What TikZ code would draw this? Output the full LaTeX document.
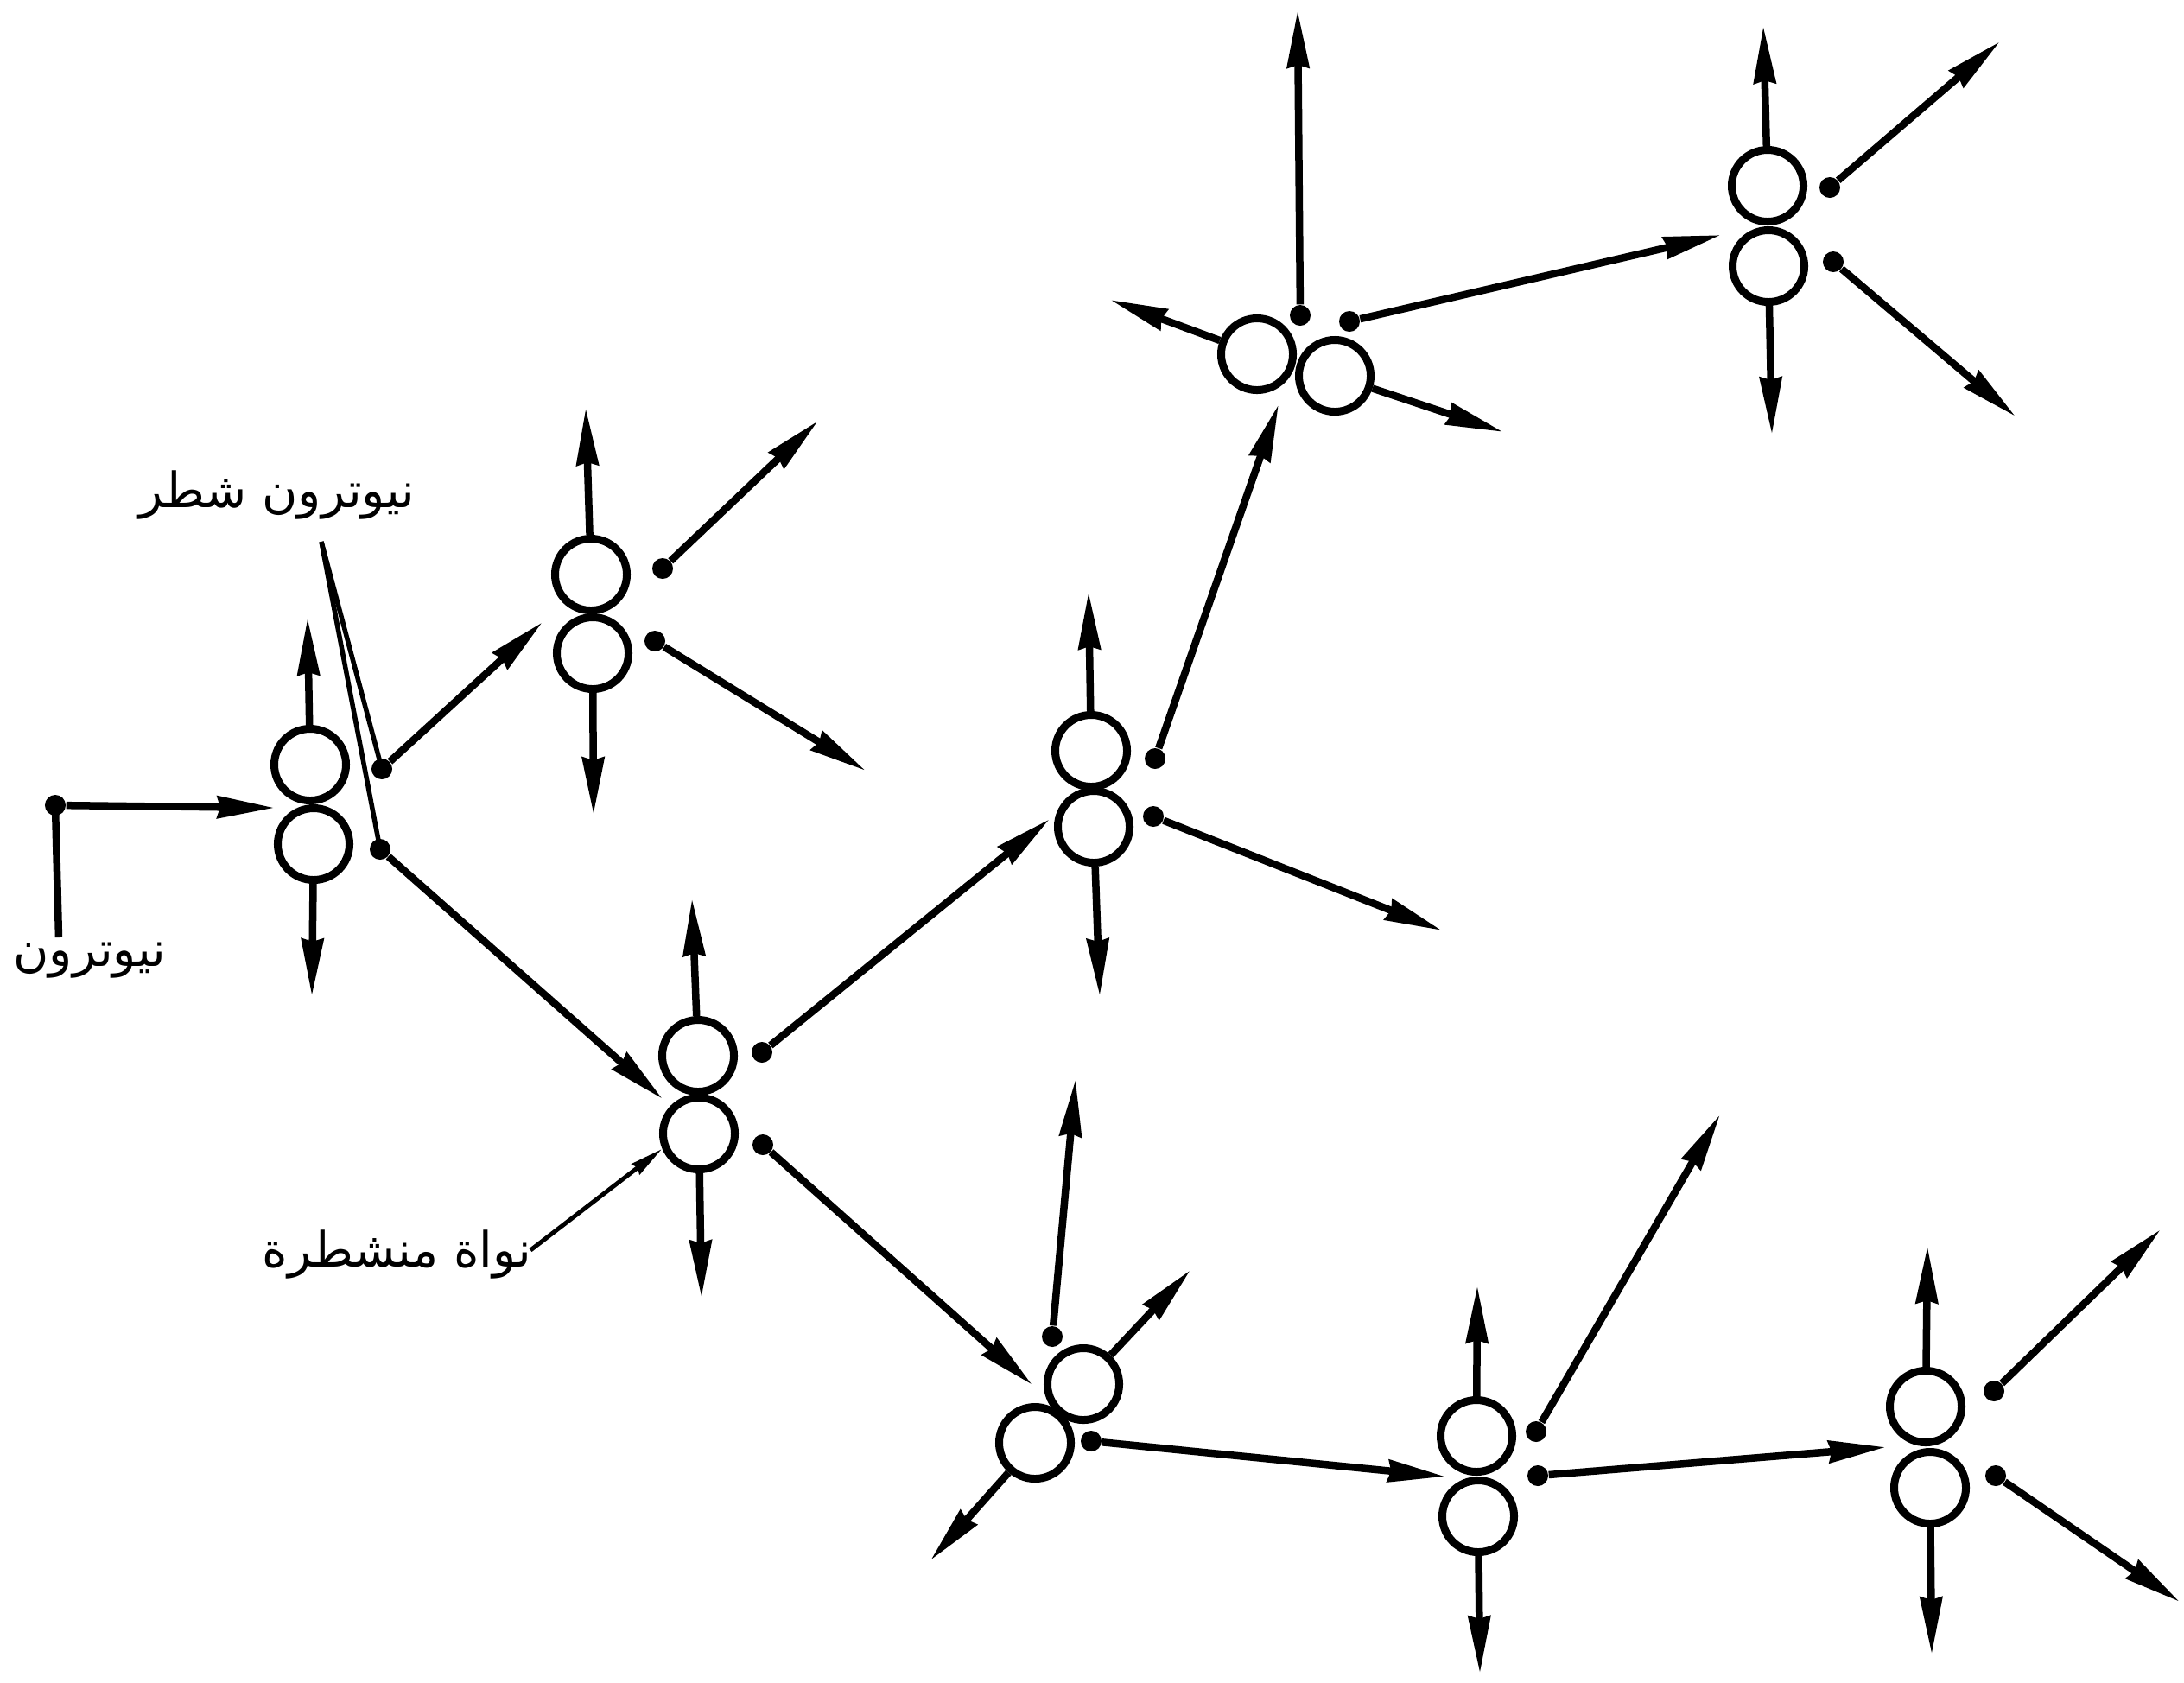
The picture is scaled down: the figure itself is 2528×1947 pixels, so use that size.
\documentclass[tikz,border=0pt]{standalone}
\usepackage{fontspec}
\newfontfamily\arabicfont[Script=Arabic]{DejaVu Sans}
\TeXXeTstate=1
\usetikzlibrary{arrows.meta}
\begin{document}
\begin{tikzpicture}[x=0.01cm,y=-0.01cm,
  nuc/.style={circle,draw,line width=0.09cm,minimum size=0.83cm,inner sep=0pt},
  dot/.style={circle,fill,minimum size=0.24cm,inner sep=0pt},
  ray/.style={line width=0.085cm,-{Stealth[length=0.66cm,width=0.25cm,inset=0.03cm]}},
  lead/.style={line width=0.055cm},
  leadarrow/.style={line width=0.05cm,-{Stealth[length=0.38cm,width=0.15cm,inset=0.03cm]}},
  lbl/.style={font=\arabicfont\fontsize{16}{18}\selectfont,inner sep=0pt}]
\useasboundingbox (0,0) rectangle (2528,1947);

% nuclei pairs
\node[nuc] (Au) at (359,885) {};  \node[nuc] (Al) at (363,977) {};
\node[nuc] (Bu) at (684,665) {};  \node[nuc] (Bl) at (686,756) {};
\node[nuc] (Cl) at (1455,410) {}; \node[nuc] (Cr) at (1545,435) {};
\node[nuc] (Du) at (808,1222) {}; \node[nuc] (Dl) at (809,1312) {};
\node[nuc] (Eu) at (1263,869) {}; \node[nuc] (El) at (1266,957) {};
\node[nuc] (Fr) at (1254,1602) {};\node[nuc] (Fl) at (1198,1670) {};
\node[nuc] (Gu) at (2046,215) {}; \node[nuc] (Gl) at (2047,308) {};
\node[nuc] (Hu) at (1709,1662) {};\node[nuc] (Hl) at (1711,1755) {};
\node[nuc] (Iu) at (2229,1628) {};\node[nuc] (Il) at (2234,1722) {};

% incoming neutron
\node[dot] (n0) at (64,932) {};
\coordinate (n0b) at (68,1085);
\coordinate (tA) at (318,935);
\draw[line width=0.085cm] (n0b) -- (n0.center);
\draw[ray] (n0) -- (tA);

% pair A
\coordinate (tAu) at (356,715); \coordinate (tAl) at (361,1153);
\draw[ray] (Au) -- (tAu); \draw[ray] (Al) -- (tAl);
\node[dot] (dA1) at (442,890) {}; \coordinate (tA1) at (628,720);
\node[dot] (dA2) at (440,983) {}; \coordinate (tA2) at (767,1272);
\draw[ray] (dA1) -- (tA1); \draw[ray] (dA2) -- (tA2);

% pair B
\coordinate (tBu) at (678,472); \coordinate (tBl) at (687,943);
\draw[ray] (Bu) -- (tBu); \draw[ray] (Bl) -- (tBl);
\node[dot] (dB1) at (767,658) {}; \coordinate (tB1) at (947,487);
\node[dot] (dB2) at (758,742) {}; \coordinate (tB2) at (1002,892);
\draw[ray] (dB1) -- (tB1); \draw[ray] (dB2) -- (tB2);

% pair D
\coordinate (tDu) at (801,1040); \coordinate (tDl) at (812,1502);
\draw[ray] (Du) -- (tDu); \draw[ray] (Dl) -- (tDl);
\node[dot] (dD1) at (882,1218) {}; \coordinate (tD1) at (1215,948);
\node[dot] (dD2) at (883,1325) {}; \coordinate (tD2) at (1195,1603);
\draw[ray] (dD1) -- (tD1); \draw[ray] (dD2) -- (tD2);

% pair E
\coordinate (tEu) at (1260,685); \coordinate (tEl) at (1273,1153);
\draw[ray] (Eu) -- (tEu); \draw[ray] (El) -- (tEl);
\node[dot] (dE1) at (1337,878) {}; \coordinate (tE1) at (1480,468);
\node[dot] (dE2) at (1335,945) {}; \coordinate (tE2) at (1669,1077);
\draw[ray] (dE1) -- (tE1); \draw[ray] (dE2) -- (tE2);

% pair C
\node[dot] (dC0) at (1505,365) {}; \coordinate (tC0) at (1502,12);
\coordinate (tCl) at (1285,347); \coordinate (tCr) at (1740,500);
\draw[ray] (dC0) -- (tC0);
\draw[ray] (Cl) -- (tCl); \draw[ray] (Cr) -- (tCr);
\node[dot] (dC1) at (1562,372) {}; \coordinate (tC1) at (1992,272);
\draw[ray] (dC1) -- (tC1);

% pair G
\coordinate (tGu) at (2041,30); \coordinate (tGl) at (2051,503);
\draw[ray] (Gu) -- (tGu); \draw[ray] (Gl) -- (tGl);
\node[dot] (dG1) at (2118,217) {}; \coordinate (tG1) at (2315,48);
\node[dot] (dG2) at (2122,303) {}; \coordinate (tG2) at (2333,482);
\draw[ray] (dG1) -- (tG1); \draw[ray] (dG2) -- (tG2);

% pair F
\node[dot] (dF0) at (1218,1547) {}; \coordinate (tF0) at (1245,1249);
\coordinate (tFr) at (1378,1470); \coordinate (tFl) at (1077,1806);
\draw[ray] (dF0) -- (tF0);
\draw[ray] (Fr) -- (tFr); \draw[ray] (Fl) -- (tFl);
\node[dot] (dF1) at (1263,1668) {}; \coordinate (tF1) at (1673,1709);
\draw[ray] (dF1) -- (tF1);

% pair H
\coordinate (tHu) at (1710,1488); \coordinate (tHl) at (1713,1937);
\draw[ray] (Hu) -- (tHu); \draw[ray] (Hl) -- (tHl);
\node[dot] (dH1) at (1778,1657) {}; \coordinate (tH1) at (1991,1290);
\node[dot] (dH2) at (1780,1708) {}; \coordinate (tH2) at (2183,1675);
\draw[ray] (dH1) -- (tH1); \draw[ray] (dH2) -- (tH2);

% pair I
\coordinate (tIu) at (2231,1442); \coordinate (tIl) at (2236,1915);
\draw[ray] (Iu) -- (tIu); \draw[ray] (Il) -- (tIl);
\node[dot] (dI1) at (2308,1610) {}; \coordinate (tI1) at (2501,1423);
\node[dot] (dI2) at (2310,1708) {}; \coordinate (tI2) at (2523,1854);
\draw[ray] (dI1) -- (tI1); \draw[ray] (dI2) -- (tI2);

% labels
\node[lbl] (Lfis) at (321,573) {\beginR نيوترون شطر\endR};
\coordinate (Ls) at (372,627);
\draw[lead] (Ls) -- (dA1.center);
\draw[lead] (Ls) -- (dA2.center);

\node[lbl] (Lneu) at (104,1112) {\beginR نيوترون\endR};

\node[lbl,anchor=east] (Lnuc) at (616,1452) {\beginR نواة منشطرة\endR};
\coordinate (Lns) at (614,1447);
\coordinate (Lne) at (766,1330);
\draw[leadarrow] (Lns) -- (Lne);
\end{tikzpicture}
\end{document}
